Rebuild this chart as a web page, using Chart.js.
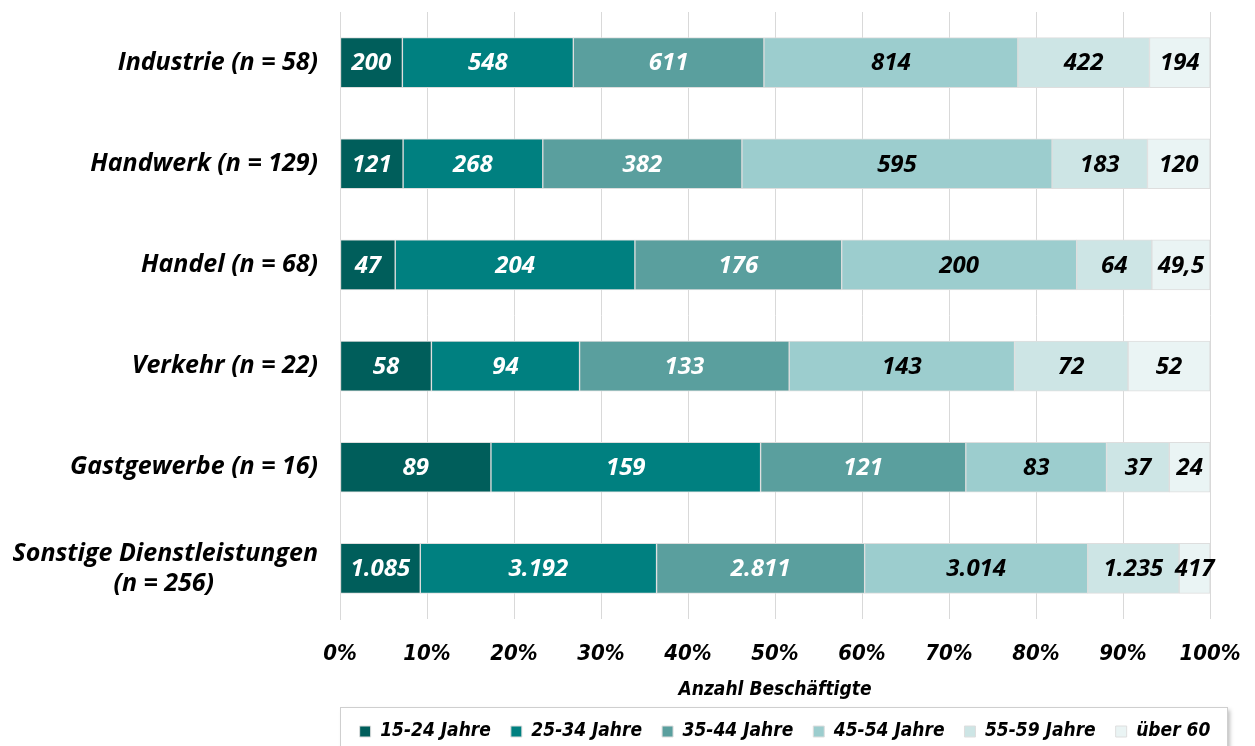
<!DOCTYPE html>
<html><head><meta charset="utf-8">
<script src="https://cdn.jsdelivr.net/npm/chart.js@4/dist/chart.umd.min.js"></script>
<style>html,body{margin:0;padding:0;background:#fff}</style>
</head><body>
<canvas id="c" width="1255" height="746" style="display:block;width:1255px;height:746px"></canvas>
<script>
const categories = ['Industrie (n = 58)', 'Handwerk (n = 129)', 'Handel (n = 68)', 'Verkehr (n = 22)', 'Gastgewerbe (n = 16)', ['Sonstige Dienstleistungen', '(n = 256)']];
const seriesNames = ['15-24 Jahre', '25-34 Jahre', '35-44 Jahre', '45-54 Jahre', '55-59 Jahre', 'über 60'];
const s15_24 = [200, 121, 47, 58, 89, 1085];
const s25_34 = [548, 268, 204, 94, 159, 3192];
const s35_44 = [611, 382, 176, 133, 121, 2811];
const s45_54 = [814, 595, 200, 143, 83, 3014];
const s55_59 = [422, 183, 64, 72, 37, 1235];
const s60 = [194, 120, 49.5, 52, 24, 417];
const xTicks = [0, 10, 20, 30, 40, 50, 60, 70, 80, 90, 100];

const colors = ['#005e5b', '#008080', '#5a9f9e', '#9ccdce', '#cde5e5', '#eaf4f4'];
const labelColors = ['#ffffff', '#ffffff', '#ffffff', '#000000', '#000000', '#000000'];
const allSeries = [s15_24, s25_34, s35_44, s45_54, s55_59, s60];
const totals = categories.map((c, i) => allSeries.reduce((a, s) => a + s[i], 0));

const FONT_MAIN = '"Open Sans", "Noto Sans", sans-serif';
const FONT_COND = '"Liberation Sans Narrow", "DejaVu Sans Condensed", "Open Sans Condensed", sans-serif';

function fmtDE(v) {
  const neg = v < 0; v = Math.abs(v);
  let [ip, dp] = String(v).split('.');
  ip = ip.replace(/\B(?=(\d{3})+(?!\d))/g, '.');
  return (neg ? '-' : '') + ip + (dp ? ',' + dp : '');
}

const measureCtx = document.createElement('canvas').getContext('2d');
function centerLines(lines, font) {
  if (!Array.isArray(lines)) return lines;
  measureCtx.font = font;
  const widths = lines.map(l => measureCtx.measureText(l).width);
  const maxW = Math.max(...widths);
  const sp = measureCtx.measureText(' ').width;
  return lines.map((l, i) => {
    const n = Math.round((maxW - widths[i]) / 2 / sp);
    return l + ' '.repeat(n);
  });
}

const datasets = allSeries.map((s, k) => ({
  label: seriesNames[k],
  data: s.map((v, i) => v / totals[i] * 100),
  raw: s,
  backgroundColor: colors[k],
  borderColor: '#dedede',
  borderWidth: 1,
  borderSkipped: false,
  barThickness: 50
}));

const dataLabels = {
  id: 'dataLabels',
  afterDatasetsDraw(chart) {
    const ctx = chart.ctx;
    ctx.save();
    ctx.font = 'italic bold 24px ' + FONT_MAIN;
    ctx.textAlign = 'center';
    ctx.textBaseline = 'middle';
    chart.data.datasets.forEach((ds, k) => {
      const meta = chart.getDatasetMeta(k);
      meta.data.forEach((bar, i) => {
        ctx.fillStyle = labelColors[k];
        ctx.fillText(fmtDE(ds.raw[i]), (bar.x + bar.base) / 2, bar.y + 1);
      });
    });
    ctx.restore();
  }
};

const legendBox = {
  id: 'legendBox',
  afterLayout(chart) {
    const lg = chart.legend;
    if (lg) {
      lg.left += 180; lg.right += 180;
      const h = lg.bottom - lg.top;
      lg.top = 702; lg.bottom = 702 + h;
    }
  },
  beforeDraw(chart) {
    const ctx = chart.ctx;
    ctx.save();
    ctx.fillStyle = '#ffffff';
    ctx.fillRect(0, 0, chart.width, chart.height);
    ctx.shadowColor = 'rgba(0,0,0,0.25)';
    ctx.shadowBlur = 4;
    ctx.shadowOffsetX = 2;
    ctx.shadowOffsetY = 2;
    ctx.fillStyle = '#ffffff';
    ctx.fillRect(340.5, 707.5, 887, 50);
    ctx.shadowColor = 'transparent';
    ctx.strokeStyle = '#cfcfcf';
    ctx.lineWidth = 1;
    ctx.strokeRect(340.5, 707.5, 887, 50);
    ctx.restore();
  }
};

const yFont = 'italic bold 25px ' + FONT_MAIN;

new Chart(document.getElementById('c'), {
  type: 'bar',
  data: { labels: categories, datasets },
  plugins: [legendBox, dataLabels],
  options: {
    responsive: false,
    animation: false,
    indexAxis: 'y',
    layout: { padding: { top: 12, right: 45, left: 0, bottom: 0 } },
    scales: {
      x: {
        stacked: true,
        min: 0, max: 100,
        afterBuildTicks(scale) { scale.ticks = xTicks.map(v => ({ value: v })); },
        afterFit(scale) {
          scale.paddingLeft = 0; scale.paddingRight = 0;
          const lg = scale.chart.legend;
          const lgH = lg ? (lg.height || 0) : 0;
          scale.height = 746 - 619 - lgH;
        },
        grid: { color: '#d9d9d9', lineWidth: 1, drawTicks: false },
        border: { display: false },
        ticks: {
          padding: 22,
          color: '#000',
          font: { family: FONT_COND, size: 22, weight: 'bold', style: 'italic' },
          callback: v => v + '%'
        },
        title: {
          display: true,
          text: 'Anzahl Beschäftigte',
          color: '#000',
          padding: { top: 6, bottom: -4 },
          font: { family: FONT_COND, size: 19, weight: 'bold', style: 'italic' }
        }
      },
      y: {
        stacked: true,
        afterFit(scale) { scale.width = 340; scale.paddingTop = 0; scale.paddingBottom = 0; },
        grid: { display: false, drawTicks: false },
        border: { display: true, color: '#d9d9d9' },
        ticks: {
          padding: 22,
          color: '#000',
          font: { family: FONT_MAIN, size: 25, weight: 'bold', style: 'italic', lineHeight: 1.2 },
          callback(v, i) { return centerLines(categories[i], yFont); }
        }
      }
    },
    plugins: {
      tooltip: { enabled: false },
      legend: {
        position: 'bottom',
        align: 'center',
        labels: {
          boxWidth: 11,
          boxHeight: 11,
          padding: 20,
          color: '#000',
          font: { family: FONT_COND, size: 19, weight: 'bold', style: 'italic' }
        }
      }
    }
  }
});
</script>
</body></html>
